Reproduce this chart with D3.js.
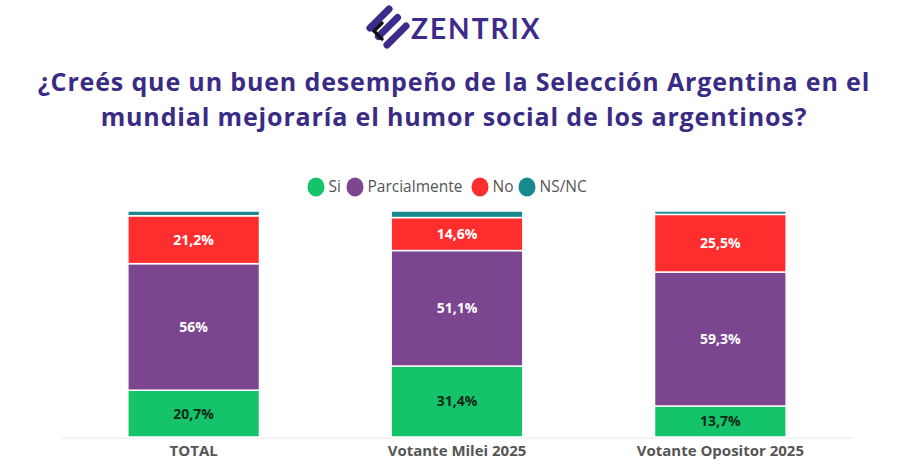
<!DOCTYPE html>
<html>
<head>
<meta charset="utf-8">
<script src="https://cdn.jsdelivr.net/npm/d3@7"></script>
<style>
  body { margin: 0; background: #fff; }
  svg { display: block; font-family: "Open Sans", sans-serif; }
</style>
</head>
<body>
<div id="chart"></div>
<script>
var categories = ['TOTAL', 'Votante Milei 2025', 'Votante Opositor 2025'];
var seriesNames = ['Si', 'Parcialmente', 'No', 'NS/NC'];
var si = [20.7, 31.4, 13.7];
var parcialmente = [56, 51.1, 59.3];
var no = [21.2, 14.6, 25.5];
var nsnc = [2.1, 2.9, 1.5];
var valueLabels = {
  Si: ['20,7%', '31,4%', '13,7%'],
  Parcialmente: ['56%', '51,1%', '59,3%'],
  No: ['21,2%', '14,6%', '25,5%'],
  'NS/NC': ['', '', '']
};
var titleLines = ['¿Creés que un buen desempeño de la Selección Argentina en el',
  'mundial mejoraría el humor social de los argentinos?'];

var colors = { Si: '#14c36a', Parcialmente: '#7b4590', No: '#ff2e2e', 'NS/NC': '#17898f' };
var labelColors = { Si: '#0c2a17', Parcialmente: '#ffffff', No: '#ffffff', 'NS/NC': '#ffffff' };

var width = 900, height = 464;
var svg = d3.select('#chart').append('svg').attr('width', width).attr('height', height);

// rows for the stack
var rows = categories.map(function(c, i) {
  return { cat: c, Si: si[i], Parcialmente: parcialmente[i], No: no[i], 'NS/NC': nsnc[i], idx: i };
});
var stacked = d3.stack().keys(seriesNames)(rows);

var x = d3.scaleBand().domain(categories).range([62, 852]).paddingInner(0.5).paddingOuter(0.25);
var y = d3.scaleLinear().domain([0, 100]).range([437, 211]);

// logo
var logo = svg.append('g').attr('transform', 'translate(388,27)');
[-12, 0, 12].forEach(function(o) {
  logo.append('rect')
    .attr('x', -17).attr('y', o - 3.5).attr('width', 34).attr('height', 7).attr('rx', 3.5)
    .attr('transform', 'rotate(-45)')
    .attr('fill', '#3d2a8c');
});
logo.append('path')
  .attr('d', 'M-6,-4 L-14,4 L-6,12')
  .attr('fill', 'none').attr('stroke', '#111').attr('stroke-width', 3.5).attr('stroke-linecap', 'round');
svg.append('text')
  .attr('x', 411).attr('y', 39)
  .attr('font-family', 'Lato, sans-serif').attr('font-weight', 700).attr('font-size', 28)
  .attr('letter-spacing', 2)
  .attr('fill', '#3d2a8c')
  .text('ZENTRIX');

// title
svg.append('g').selectAll('text').data(titleLines).join('text')
  .attr('x', 454).attr('y', function(d, i) { return 91 + i * 35; })
  .attr('text-anchor', 'middle')
  .attr('font-weight', 700).attr('font-size', 25)
  .attr('letter-spacing', 0.85)
  .attr('fill', '#3a2b84')
  .text(function(d) { return d; });

// legend
var legendX = [316, 355, 480, 527];
var legend = svg.append('g').selectAll('g').data(seriesNames).join('g')
  .attr('transform', function(d, i) { return 'translate(' + legendX[i] + ',187)'; });
legend.append('ellipse').attr('rx', 8.5).attr('ry', 9.5).attr('fill', function(d) { return colors[d]; });
legend.append('text').attr('x', 12.5).attr('dy', '0.35em')
  .attr('font-size', 15.5).attr('fill', '#555')
  .text(function(d) { return d; });

// axis
var xAxis = d3.axisBottom(x).tickSize(0).tickPadding(7);
var gx = svg.append('g').attr('transform', 'translate(0,438)').call(xAxis);
gx.select('.domain').attr('stroke', '#e6e6e6').attr('d', 'M62,0H852');
gx.selectAll('text')
  .attr('font-family', '"Open Sans", sans-serif')
  .attr('font-size', 15).attr('font-weight', 700).attr('fill', '#555');

// bars
var layers = svg.append('g').selectAll('g').data(stacked).join('g')
  .attr('fill', function(d) { return colors[d.key]; });
layers.selectAll('rect').data(function(d) { return d; }).join('rect')
  .attr('x', function(d) { return x(d.data.cat); })
  .attr('width', x.bandwidth())
  .attr('y', function(d) { return y(d[1]); })
  .attr('height', function(d) { return y(d[0]) - y(d[1]); })
  .attr('stroke', '#fff').attr('stroke-width', 1.5);

// value labels
layers.each(function(layer) {
  d3.select(this).selectAll('text').data(layer).join('text')
    .attr('x', function(d) { return x(d.data.cat) + x.bandwidth() / 2; })
    .attr('y', function(d) { return (y(d[0]) + y(d[1])) / 2; })
    .attr('dy', '0.35em')
    .attr('text-anchor', 'middle')
    .attr('font-size', 14).attr('font-weight', 700)
    .attr('fill', labelColors[layer.key])
    .text(function(d) { return valueLabels[layer.key][d.data.idx]; });
});
</script>
</body>
</html>
